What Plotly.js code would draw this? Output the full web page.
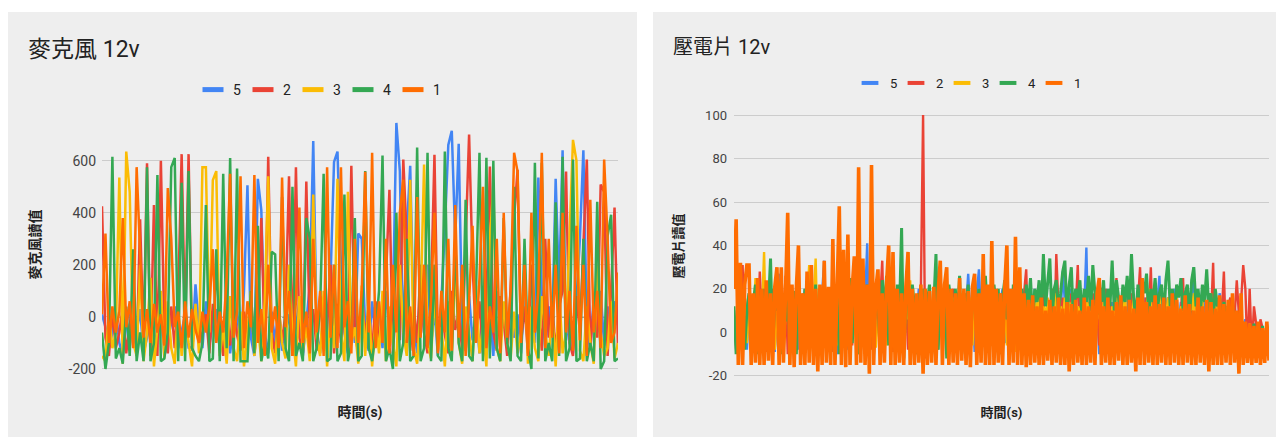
<!DOCTYPE html>
<html>
<head>
<meta charset="utf-8">
<script src="https://cdn.plot.ly/plotly-3.0.1.min.js"></script>
<style>
  html, body { margin: 0; padding: 0; background: #ffffff; width: 1276px; height: 437px; overflow: hidden; }
  #mic { position: absolute; left: 8px; top: 12px; width: 629px; height: 425px; }
  #piezo { position: absolute; left: 653px; top: 12px; width: 623px; height: 425px; }
</style>
</head>
<body>
<div id="mic"></div>
<div id="piezo"></div>
<script>
// ---------- series names & colours (legend order) ----------
const seriesNames = ['5', '2', '3', '4', '1'];
const seriesColors = ['#4285F4', '#EA4335', '#FBBC04', '#34A853', '#FF6D01'];

// ---------- 麥克風 12v : readings per sample ----------
const mic5 = [
  10, -40, -120, -60, 20, -100, -150, -30, 40, -110,
  -60, 30, -140, -80, 0, -120, -50, 20, -150, -90,
  -30, 40, -120, -60, 10, -118, -118, 125, -40, -120,
  60, -110, -20, 30, -130, -60, 80, -140, -30, 20,
  -120, 100, 505, -80, -150, 530, 410, -60, -140, 20,
  -100, 40, -130, -60, 10, -120, -40, 60, -150, -20,
  120, 675, -50, -140, 30, -90, 150, 595, 635, 200,
  -60, -140, 40, -100, 320, 300, -40, -130, 60, -80,
  20, -120, 100, -60, 40, 745, 560, -100, 330, 580,
  -20, -140, 80, -60, 200, -110, 30, -150, 60, 340,
  660, 715, 300, 665, -40, -130, 80, -90, 20, -140,
  60, -100, 30, -150, 100, -60, 20, -120, 50, -80,
  10, -140, 80, -70, 200, -100, 535, 60, -120, 40,
  -60, 530, 100, 640, -90, 20, -140, 60, 300, 640,
  -40, -130, 80, -60, 100, -110, 40, -90, 60, -30
];
const mic2 = [
  425, -80, -150, 20, -120, -60, 40, -140, -30, 60,
  -150, 375, -100, 590, -150, 430, -150, 600, -60, -140,
  40, -120, 80, 625, -40, 625, -130, 20, -100, -60,
  10, -140, 50, -90, -20, -150, 30, -110, 60, -70,
  -130, 20, -90, 80, -140, -30, 380, -110, 615, -60,
  -140, 40, -100, 20, 540, -150, 575, -80, -140, 520,
  -60, 30, -130, 80, -90, -30, 200, -140, 50, -100,
  20, -120, 580, -60, -140, 100, -80, 40, -130, 60,
  -100, -20, 150, 488, -140, 60, -90, 604, 300, -130,
  40, -100, 200, -60, -140, 80, 623, -110, 40, -70,
  -140, 100, -50, 20, -130, 300, 700, 200, -90, 60,
  -140, 40, 577, -60, -130, 80, -20, -150, 120, 380,
  565, -100, 40, -140, 200, -60, 20, -130, 300, -80,
  60, -140, 40, 100, 558, -100, -150, 80, -60, 300,
  604, -120, 50, -80, 508, 480, -150, 100, 420, -120
];
const mic3 = [
  -150, -170, 20, -120, -60, 535, -180, 635, 480, -100,
  -150, 200, -170, -60, 150, -190, -40, 100, -160, 60,
  -120, -180, 40, -150, 20, -100, -190, 50, -140, 575,
  575, -60, 525, 560, -150, -40, -180, 80, -120, -170,
  20, -190, -60, 100, -150, -30, -170, 60, 540, -120,
  -180, 40, -100, -160, 200, -60, -190, 80, -130, -40,
  -170, 470, -80, -150, 100, -190, 20, -120, 530, -60,
  -170, 480, -100, -40, -180, 120, -150, 60, -190, -20,
  -140, 100, -170, 40, -100, -190, 200, -60, -150, 527,
  -120, -180, 40, 585, -100, -160, 80, -130, -40, -190,
  60, -150, 200, -100, -180, 40, -60, -170, 120, -140,
  -40, -190, 300, 500, -120, -170, 60, -100, -160, 20,
  -140, -60, 200, -180, 40, -120, -170, 80, -60, -150,
  20, -190, 100, -140, -60, 300, 680, 600, -130, -170,
  40, -100, -180, 200, -60, -150, -120, 60, -160, -100
];
const mic4 = [
  -60, -200, -100, 615, -160, -120, -180, 40, -150, 260,
  -170, -60, -170, 575, -170, -100, 545, -170, -160, -60,
  575, 610, -170, 515, -170, 560, -120, -150, -170, -100,
  430, -170, -160, 260, -170, 550, -120, 610, -170, 570,
  -170, -170, -170, 100, -140, 350, -170, -100, -160, 250,
  240, -170, 460, -120, -170, 500, -150, -100, -170, 380,
  300, -170, -120, 40, 550, -170, -160, 200, -170, -140,
  470, -170, -100, 380, -170, -150, 560, -120, -170, -60,
  100, 620, -170, -120, -200, 400, -170, -100, 300, -170,
  -150, 650, -170, -120, 630, -170, 200, -150, -170, 635,
  -120, -170, 300, -100, -170, 450, -150, -170, 100, 630,
  -170, 611, -160, 600, -120, -170, 380, -100, -170, 500,
  -150, -170, 300, -120, -200, 592, -160, 592, -170, -100,
  -170, 440, -150, 615, -170, -120, 604, -170, -160, 300,
  -170, -100, -170, 442, -200, -170, 310, 392, -170, -160
];
const mic1 = [
  10, 320, -100, 40, -60, 20, 380, -40, 60, -120,
  575, 250, -80, 30, -100, 50, -60, 10, -110, 495,
  300, -40, 20, -120, 60, -80, 30, -50, -100, 20,
  -60, 40, 260, -100, 20, -60, 150, 550, -80, 20,
  540, -120, 60, -40, 545, -100, 30, -150, 200, -60,
  40, -120, 535, -40, 100, -150, 60, 420, -100, 20,
  -140, 300, -60, 100, -150, 575, -80, 200, -120, 575,
  -40, 60, -140, 300, -100, 100, 557, -60, 630, -120,
  60, -100, 300, -140, 200, -60, 400, 527, -100, 40,
  -150, 460, -80, 200, -120, 60, 400, -140, 100, -60,
  300, -130, 430, -80, 200, -150, 60, 350, -100, 150,
  500, -120, 40, -60, 300, -140, 400, -80, 100, 630,
  558, -100, 200, -150, 400, -60, 100, 630, -120, 300,
  -80, 200, -140, 400, -60, 100, -130, 350, -90, 200,
  -150, 450, -60, 100, -120, 604, 300, -100, -60, 170
];

// ---------- 壓電片 12v : readings per sample ----------
const piezo5 = [
  8, -6, 14, 10, 4, 18, -8, 12, 6, 16,
  -10, 14, 8, 20, -5, 12, 16, 4, 18, -9,
  14, 27, -6, 12, 8, 16, -10, 10, 18, 6,
  -8, 14, 12, 20, -5, 10, 16, 6, 14, -9,
  12, 18, 33, -6, 10, 14, 8, 16, -10, 12,
  18, 4, 14, -8, 10, 20, 6, 12, -5, 16,
  10, 14, 41, -9, 12, 18, 6, 10, 16, -6,
  14, 8, 20, -10, 12, 16, 4, 14, 18, -8,
  10, 12, 16, -5, 14, 6, 20, 10, -9, 12,
  18, 4, 14, -6, 10, 16, 8, 12, 20, -10,
  14, 6, 18, -8, 12, 10, 16, -5, 14, 27,
  8, 12, -9, 18, 29, 6, 14, -6, 10, 16,
  12, -10, 18, 8, 14, 20, -5, 12, 6, 16,
  -8, 14, 10, 18, 4, 12, -9, 16, 8, 14,
  20, -6, 12, 10, 16, -10, 14, 6, 18, 12,
  -5, 16, 8, 28, 14, -8, 10, 20, 6, 12,
  -9, 18, 14, 10, 39, -6, 12, 16, 8, 14,
  -10, 20, 12, 6, 16, -5, 14, 10, 18, -8,
  12, 6, 16, 20, -9, 14, 10, 8, 18, -6,
  12, 16, 4, 14, -10, 18, 10, 12, 26, -5,
  14, 8, 16, 10, -8, 20, 12, 6, 14, -9,
  18, 10, 12, 16, 30, -6, 14, 8, 20, 10,
  -10, 12, 16, 6, 14, -5, 18, 10, 8, 12,
  10, -8, 6, 12, 4, -9, 8, 2, 6, -5,
  2, -10, 4, 0, 3, -8, 2, -6, 4, -9
];
const piezo2 = [
  10, -8, 14, 5, 31, -6, 12, 18, -10, 8,
  15, -5, 28, 6, 12, -9, 16, 4, 20, -7,
  10, 14, -8, 6, 26, -10, 12, 8, 16, -6,
  14, 4, 18, -8, 10, 15, -5, 12, 20, -10,
  8, 16, -6, 12, 5, 18, -9, 14, 10, -4,
  16, 6, -8, 12, 18, -6, 10, 14, -10, 8,
  15, -5, 12, 20, -8, 10, 16, 4, 14, 33,
  -6, 12, 8, 18, -9, 14, 6, 16, -5, 10,
  18, -8, 12, 6, 16, -10, 14, 22, 100, -12,
  12, 16, -6, 10, 18, -8, 14, 5, 12, -9,
  16, 8, 20, -6, 12, 14, -10, 10, 18, 6,
  -8, 14, 10, 16, -5, 12, 20, -9, 8, 14,
  -6, 12, 16, 4, 18, -10, 10, 14, -8, 12,
  16, 6, -12, 14, 10, 18, 29, -6, 12, 8,
  16, -10, 14, 6, 18, -8, 12, 10, 20, -6,
  36, 12, 8, 16, -9, 14, 6, 18, -5, 10,
  31, -8, 12, 16, 6, 14, -10, 18, 8, 12,
  -6, 16, 10, 20, -8, 14, 6, 12, 25, -9,
  14, 8, 16, -6, 12, 18, -10, 10, 14, 30,
  -8, 12, 16, 6, 30, -5, 14, 10, 18, -9,
  12, 6, 16, -8, 14, 10, 20, -6, 12, 25,
  -10, 14, 8, 16, -6, 12, 18, 4, 14, -8,
  10, 16, 6, 32, -10, 12, 14, 8, 28, -6,
  12, 16, -9, 10, 24, 8, 14, 31, 20, -10,
  20, -8, 12, 4, -10, 6, 2, -12, 4, -8
];
const piezo3 = [
  22, 22, 16, -8, 12, 18, -5, 10, 14, 6,
  25, -9, 12, 8, 37, -6, 14, 10, 18, -8,
  12, 5, 16, -10, 10, 14, 6, 18, -7, 12,
  8, 16, -5, 10, 14, 31, 2, 12, 34, -8,
  14, 6, 18, -9, 10, 16, 4, 12, -6, 18,
  10, 14, -8, 16, 6, 12, 20, -5, 25, 10,
  14, -9, 18, 6, 12, 16, -7, 10, 14, 4,
  18, -6, 12, 16, 8, -10, 14, 10, 18, -5,
  12, 6, 24, -8, 14, 10, 16, -6, 12, 18,
  4, -9, 14, 10, 16, -6, 12, 18, 8, -10,
  14, 10, 16, -5, 12, 6, 18, -8, 14, 10,
  16, -6, 12, 8, 18, -9, 14, 10, 16, -5,
  12, 18, 6, -8, 14, 10, 16, -6, 12, 8,
  18, -9, 14, 10, 16, -5, 12, 6, 18, -8,
  14, 10, 20, -6, 12, 8, 16, -9, 14, 10,
  18, -5, 12, 6, 16, -8, 14, 10, 18, -6,
  12, 8, 16, -9, 14, 10, 18, -5, 12, 6,
  16, -8, 14, 10, 18, -6, 12, 8, 16, -9,
  14, 10, 18, -5, 12, 6, 16, -8, 14, 10,
  18, -6, 12, 20, 16, -9, 14, 10, 18, -5,
  12, 6, 16, -8, 14, 10, 18, -6, 12, 8,
  16, -9, 14, 10, 18, -5, 12, 6, 16, -8,
  14, 10, 18, -6, 12, 8, 16, -9, 14, 10,
  12, -5, 10, 6, 8, -8, 6, 4, 2, -6,
  4, -9, 2, 0, 3, -8, 1, -5, 2, -10
];
const piezo4 = [
  12, -10, 15, 5, 20, -8, 10, 18, -5, 14,
  22, -10, 16, 8, 20, -5, 12, 34, -8, 15,
  10, 20, -10, 18, 5, 22, -6, 14, 19, -10,
  16, 8, -4, 20, 12, -8, 18, 5, 22, -10,
  14, 20, -6, 10, 18, -9, 22, 6, 16, -10,
  20, 12, -8, 15, 25, -5, 10, 20, -10, 18,
  14, -6, 22, 8, 16, -10, 20, 12, -8, 24,
  10, 26, -6, 18, 14, -9, 22, 8, 48, -12,
  16, 20, -8, 22, 12, -10, 18, 5, 20, -6,
  14, 22, -10, 16, 36, -8, 20, 10, 18, -12,
  22, 14, -6, 20, 8, 26, -10, 18, 12, 22,
  -8, 16, 24, 5, 20, -10, 14, 26, 8, 18,
  -6, 22, 12, 20, -10, 16, 24, 6, 18, -8,
  22, 14, 26, 8, 20, -10, 22, 12, 25, 5,
  20, 14, 24, 8, 36, 12, 22, 34, 6, 20,
  24, 10, 18, 28, 33, 8, 22, 30, 5, 20,
  16, 24, 6, 20, 14, 26, 10, 31, 18, 8,
  22, 14, 24, 6, 20, 12, 33, 10, 24, 16,
  8, 22, 14, 26, 10, 36, 16, 6, 22, 12,
  24, 18, 27, 8, 20, 14, 25, 10, 18, 22,
  6, 24, 33, 12, 20, 8, 22, 16, 25, 10,
  18, 22, 6, 24, 30, 12, 20, 8, 22, 14,
  29, 10, 18, 6, 20, 12, 16, -4, 14, 8,
  10, -6, 12, 4, 8, -10, 6, -5, 2, -12,
  0, -10, 4, -8, 2, -12, 3, -9, 0, -10
];
const piezo1 = [
  20, 52, -15, 32, -15, 22, 31, 31, -15, 18,
  -14, 25, -15, 20, -15, 24, -13, 18, -15, 21,
  30, -15, 30, -14, 19, 55, -15, 22, -16, 20,
  40, -15, 18, -15, 28, -14, 31, -15, 20, -18,
  22, -15, 33, -14, 21, -15, 43, -15, 20, 58,
  -15, 38, -16, 45, -15, 20, 35, -15, 76, -14,
  34, -15, 22, -19, 77, -15, 20, 29, -15, 18,
  -14, 22, 40, -15, 37, -15, 20, -14, 18, -15,
  21, 37, -15, 20, -15, 18, -14, 22, -19, 20,
  -15, 19, -14, 21, -15, 18, 33, -15, 22, 30,
  -15, 20, -14, 18, -15, 25, -13, 20, -15, 19,
  -16, 21, 27, -15, 18, -14, 36, -15, 22, -15,
  42, -15, 20, -14, 18, -15, 21, 40, -15, 20,
  -14, 44, -15, 30, -15, 18, -16, 15, -15, 17,
  -14, 12, -15, 16, -15, 10, -13, 15, -15, 12,
  -14, 16, -15, 11, -15, 14, -18, 13, -15, 15,
  -14, 10, -15, 16, -15, 12, -14, 15, -15, 18,
  25, -15, 12, -14, 16, -15, 10, -15, 14, -13,
  17, -15, 12, -15, 15, -14, 11, -18, 16, -15,
  25, -15, 14, -14, 12, -15, 17, -15, 13, -14,
  16, -15, 12, -15, 18, -14, 15, -15, 11, -15,
  17, -14, 13, -15, 10, -15, 16, -14, 12, -15,
  15, -18, 14, -15, 11, -15, 17, -15, 13, -14,
  15, -15, 18, -14, 10, -19, 18, -15, 5, -14,
  4, -15, 3, -14, 5, -15, 2, -14, 5, -13
];

const micTicks = [-200, 0, 200, 400, 600];
const piezoTicks = [-20, 0, 20, 40, 60, 80, 100];

const FONT = "Roboto, 'Noto Sans CJK TC', 'Noto Sans CJK SC', Arial, sans-serif";
const PANEL = '#eeeeee';

function buildTraces(seriesList, widths, legendSize, legendWidth) {
  const traces = [];
  seriesList.forEach((vals, k) => {
    traces.push({
      type: 'scatter', mode: 'lines',
      x: vals.map((_, i) => i), y: vals,
      line: { color: seriesColors[k], width: widths[k] },
      showlegend: false, hoverinfo: 'skip'
    });
  });
  // legend swatches (carry no visible data)
  seriesNames.forEach((nm, k) => {
    traces.push({
      type: 'scatter', mode: 'markers', x: [null], y: [null], name: nm,
      marker: { symbol: 'line-ew-open', size: legendSize, color: seriesColors[k],
                line: { width: legendWidth, color: seriesColors[k] } },
      showlegend: true, hoverinfo: 'skip'
    });
  });
  return traces;
}

function buildLayout(o) {
  return {
    width: o.w, height: 425,
    paper_bgcolor: PANEL, plot_bgcolor: PANEL,
    margin: o.margin,
    font: { family: FONT, color: '#444444', size: o.tickSize },
    showlegend: true,
    title: {
      text: o.title, font: { family: FONT, size: o.titleSize, color: '#222222' },
      x: 20 / o.w, xref: 'container', xanchor: 'left',
      y: 1 - o.titleY / 425, yref: 'container', yanchor: 'middle'
    },
    legend: {
      orientation: 'h', xref: 'container', yref: 'container',
      x: o.legX, xanchor: 'center', y: o.legY, yanchor: 'middle',
      font: { family: FONT, size: o.legSize, color: '#222222' },
      bgcolor: 'rgba(0,0,0,0)', entrywidth: o.entryW, entrywidthmode: 'pixels',
      itemwidth: 30, tracegroupgap: 0
    },
    xaxis: {
      range: [0, o.n - 1], showgrid: false, zeroline: false, showline: false,
      showticklabels: false, ticks: '', fixedrange: true,
      title: { text: '時間(s)', font: { family: FONT, size: o.axSize, color: '#222222', weight: 'bold' }, standoff: o.xStand }
    },
    yaxis: {
      range: o.yRange, tickvals: o.ticks, ticktext: o.ticks.map(String),
      showgrid: true, gridcolor: '#cccccc', gridwidth: 1,
      zeroline: false, showline: false, ticks: '', fixedrange: true,
      ticklabelstandoff: o.tickStand,
      tickfont: { family: FONT, size: o.tickSize, color: '#444444' },
      title: { text: o.yTitle, font: { family: FONT, size: o.axSize, color: '#222222', weight: 'bold' }, standoff: o.yStand }
    },
    shapes: [{
      type: 'line', xref: 'x', yref: 'y', x0: 0, x1: o.n - 1, y0: 0, y1: 0,
      layer: 'below', line: { color: '#333333', width: 1, dash: '3px,2px' }
    }]
  };
}

const cfg = { staticPlot: true, displayModeBar: false };

Plotly.newPlot('mic',
  buildTraces([mic5, mic2, mic3, mic4, mic1], [2.5, 2.5, 2.5, 2.5, 2.5], 15, 5),
  buildLayout({
    w: 629, n: mic1.length, title: '麥克風 12v', titleSize: 23, titleY: 37,
    margin: { l: 94, r: 19, t: 107, b: 67, pad: 0 },
    yRange: [-204, 760], ticks: micTicks, tickSize: 14, tickStand: 5,
    legX: 310 / 629, legY: 1 - 78 / 425, legSize: 14, entryW: 5,
    yTitle: '麥克風讀值', axSize: 14, yStand: 24, xStand: 37
  }), cfg);

Plotly.newPlot('piezo',
  buildTraces([piezo5, piezo2, piezo3, piezo4, piezo1], [2.4, 2.4, 2.4, 3, 3.6], 12, 4),
  buildLayout({
    w: 623, n: piezo1.length, title: '壓電片 12v', titleSize: 20, titleY: 35,
    margin: { l: 81, r: 7, t: 102, b: 59, pad: 0 },
    yRange: [-21, 100.5], ticks: piezoTicks, tickSize: 13, tickStand: 6,
    legX: 312 / 623, legY: 1 - 71 / 425, legSize: 13, entryW: 1,
    yTitle: '壓電片讀值', axSize: 13, yStand: 18, xStand: 29
  }), cfg);
</script>
</body>
</html>
